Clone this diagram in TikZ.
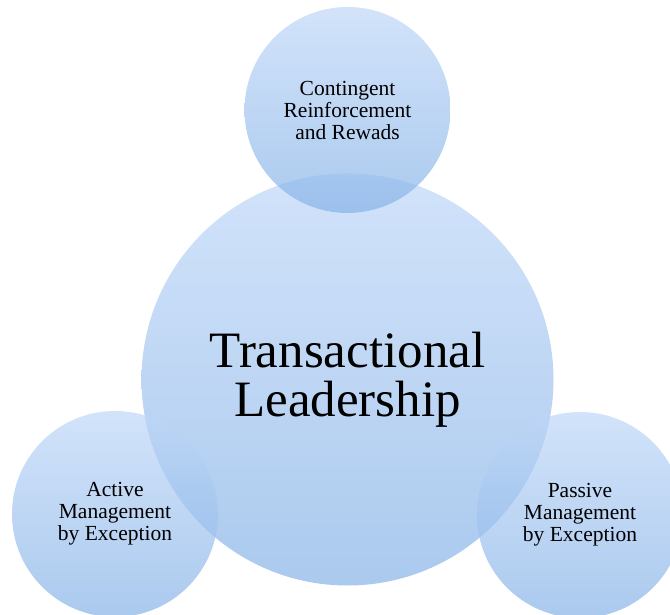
\documentclass[tikz,border=0pt]{standalone}
\usepackage{fontspec}
\setmainfont{Liberation Serif}
\definecolor{ctop}{RGB}{191,215,248}
\definecolor{cbot}{RGB}{134,179,231}
\tikzset{
  bubble/.style={circle, inner sep=0pt, top color=ctop, bottom color=cbot,
    fill opacity=0.7, text opacity=1, align=center, text=black},
  small/.style={bubble, minimum size=206pt, font=\fontsize{21.5}{22}\selectfont},
  big/.style={bubble, minimum size=412pt, font=\fontsize{51}{49}\selectfont}
}
\begin{document}
\begin{tikzpicture}[x=1pt,y=-1pt]
\useasboundingbox (0,0) rectangle (670,615);
\node[big] (center) at (347.5,379.5) {Transactional\\Leadership};
\node[small] (top) at (347.5,110) {Contingent\\Reinforcement\\and Rewads};
\node[small] (left) at (115,514) {Active\\Management\\by Exception};
\node[small] (right) at (580,515) {Passive\\Management\\by Exception};
\end{tikzpicture}
\end{document}
